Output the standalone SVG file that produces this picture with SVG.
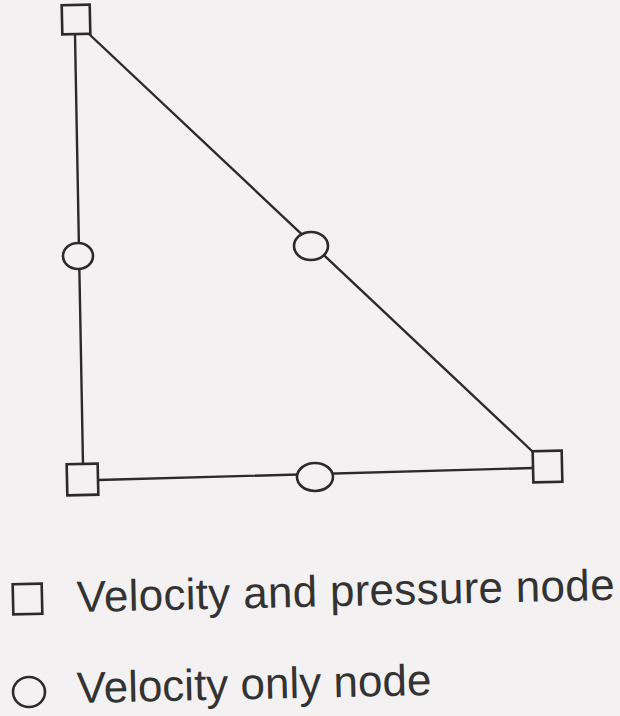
<svg xmlns="http://www.w3.org/2000/svg" width="620" height="716" viewBox="0 0 620 716">
  <style>
    .edge { stroke: #2b2b2b; stroke-width: 2.4; fill: none; stroke-linecap: round; }
    .vp { fill: #f3f1f1; stroke: #2b2b2b; stroke-width: 2.6; }
    .v { fill: #f3f1f1; stroke: #2b2b2b; stroke-width: 2.6; }
    .label { font-family: "Liberation Sans", Arial, sans-serif; font-size: 44px; fill: #333333; }
  </style>
  <rect x="0" y="0" width="620" height="716" fill="#f3f1f1"/>
  <g id="connectors">
    <line class="edge" x1="75" y1="35" x2="83" y2="464"/>
    <line class="edge" x1="89" y1="34" x2="533" y2="452"/>
    <line class="edge" x1="98" y1="480" x2="533" y2="468"/>
  </g>
  <g id="node-top">
    <rect class="vp" x="62" y="5" width="28" height="29" transform="rotate(-1.3 76 19)"/>
  </g>
  <g id="node-bottom-left">
    <rect class="vp" x="67" y="464" width="31" height="31" transform="rotate(-1.3 82 480)"/>
  </g>
  <g id="node-bottom-right">
    <rect class="vp" x="533" y="451" width="29" height="31" transform="rotate(-1.3 547 466)"/>
  </g>
  <g id="node-left-mid">
    <ellipse class="v" cx="78" cy="256" rx="15" ry="13"/>
  </g>
  <g id="node-hyp-mid">
    <ellipse class="v" cx="311" cy="246" rx="17" ry="14"/>
  </g>
  <g id="node-bottom-mid">
    <ellipse class="v" cx="315" cy="477" rx="18" ry="14"/>
  </g>
  <g id="legend-vp">
    <rect class="vp" x="13" y="584" width="29" height="30" stroke-width="2.4" transform="rotate(-1.3 28 599)"/>
    <text class="label" x="77" y="612" textLength="538" transform="rotate(-1.3 77 612)">Velocity and pressure node</text>
  </g>
  <g id="legend-v">
    <ellipse class="v" cx="29" cy="692" rx="16" ry="15" stroke-width="2.4"/>
    <text class="label" x="77" y="703" transform="rotate(-1.3 77 703)">Velocity only node</text>
  </g>
</svg>
